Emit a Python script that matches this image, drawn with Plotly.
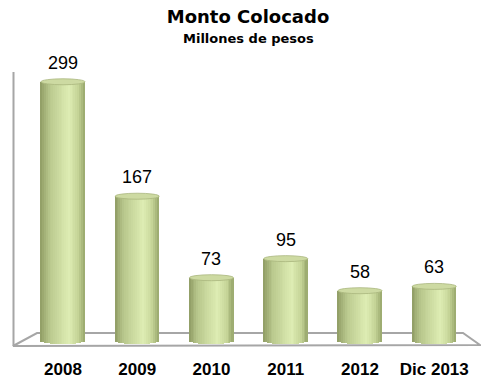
import numpy as np
import plotly.graph_objects as go

# ---- data ----
categories = ["2008", "2009", "2010", "2011", "2012", "Dic 2013"]
values = [299, 167, 73, 95, 58, 63]
title_text = "Monto Colocado"
subtitle_text = "Millones de pesos"

# ---- layout geometry (pixels) ----
W, H = 481, 383
L, R, T, B = 13, 1, 72, 36
pw, ph = W - L - R, H - T - B
k = 0.867            # px per unit
zero_px = 341        # pixel row of value 0
e = 3.0 / k          # cap half-height in data units
y_lo = -(H - B - zero_px) / k
y_hi = y_lo + ph / k
x_rng = [-0.673, 5.616]
bw = 0.593
N = 24

def px2x(px):
    return (px - L) / pw

def px2y(py):
    return (H - B - py) / ph

stops_u = [-1, -0.6, 0.0, 0.3, 0.7, 1.0]
stops_c = [(0x8f, 0x9c, 0x64), (0xb8, 0xc7, 0x8c), (0xd2, 0xe1, 0xa7),
           (0xdd, 0xec, 0xb3), (0xc6, 0xd5, 0x98), (0x98, 0xa6, 0x6c)]

def col(u):
    c = [np.interp(u, stops_u, [s[i] for s in stops_c]) for i in range(3)]
    return "rgb(%d,%d,%d)" % tuple(int(round(v)) for v in c)

fig = go.Figure()
xs = list(range(len(categories)))
for j in range(N):
    u = -1 + (2 * j + 1) / N
    base = -e * np.sqrt(max(0.0, 1 - u * u))
    fig.add_trace(go.Bar(
        x=xs, y=[v - base for v in values], base=[base] * len(values),
        offset=-bw / 2 + j * bw / N, width=bw / N * 1.08,
        marker=dict(color=col(u), line=dict(width=0)),
        hoverinfo="skip", showlegend=False))

shapes = []
# floor (behind bars)
shapes.append(dict(type="path", xref="paper", yref="paper", layer="below",
                   path="M %f %f L %f %f L %f %f L %f %f Z" % (
                       px2x(13), px2y(346), px2x(37), px2y(333),
                       px2x(463), px2y(333), px2x(480), px2y(345)),
                   line=dict(color="#a6a6a6", width=2), fillcolor="white"))
# left wall line
shapes.append(dict(type="line", xref="paper", yref="paper", layer="below",
                   x0=px2x(13.5), x1=px2x(13.5), y0=px2y(72), y1=px2y(346),
                   line=dict(color="#a6a6a6", width=2)))
# caps
for i, v in enumerate(values):
    shapes.append(dict(type="circle", xref="x", yref="y", layer="above",
                       x0=i - bw / 2, x1=i + bw / 2, y0=v - e, y1=v + e,
                       fillcolor="#cddaa2", line=dict(color="#a9b67e", width=0.8)))

ann = []
for i, v in enumerate(values):
    ann.append(dict(x=i, y=v + e, xref="x", yref="y", text=str(v),
                    showarrow=False, yanchor="middle", yshift=16,
                    font=dict(family="Liberation Sans", size=18, color="black")))
ann.append(dict(x=px2x(248), y=px2y(38), xref="paper", yref="paper",
                text="<b>%s</b>" % subtitle_text, showarrow=False,
                xanchor="center", yanchor="middle",
                font=dict(family="DejaVu Sans", size=13, color="black")))

fig.update_layout(
    width=W, height=H, margin=dict(l=L, r=R, t=T, b=B),
    paper_bgcolor="white", plot_bgcolor="rgba(0,0,0,0)",
    barmode="overlay", bargap=0, hovermode=False,
    title=dict(text="<b>%s</b>" % title_text, x=248 / W, xanchor="center",
               y=1 - 17 / H, yanchor="middle",
               font=dict(family="DejaVu Sans", size=18, color="black")),
    xaxis=dict(range=x_rng, tickvals=xs, ticktext=categories, showgrid=False,
               zeroline=False, showline=False, ticks="", ticklabelstandoff=10,
               tickfont=dict(family="Liberation Sans", size=17, color="black",
                             weight="bold")),
    yaxis=dict(range=[y_lo, y_hi], showgrid=False, zeroline=False,
               showline=False, showticklabels=False, ticks=""),
    shapes=shapes, annotations=ann,
)
fig.write_html("out.html")
